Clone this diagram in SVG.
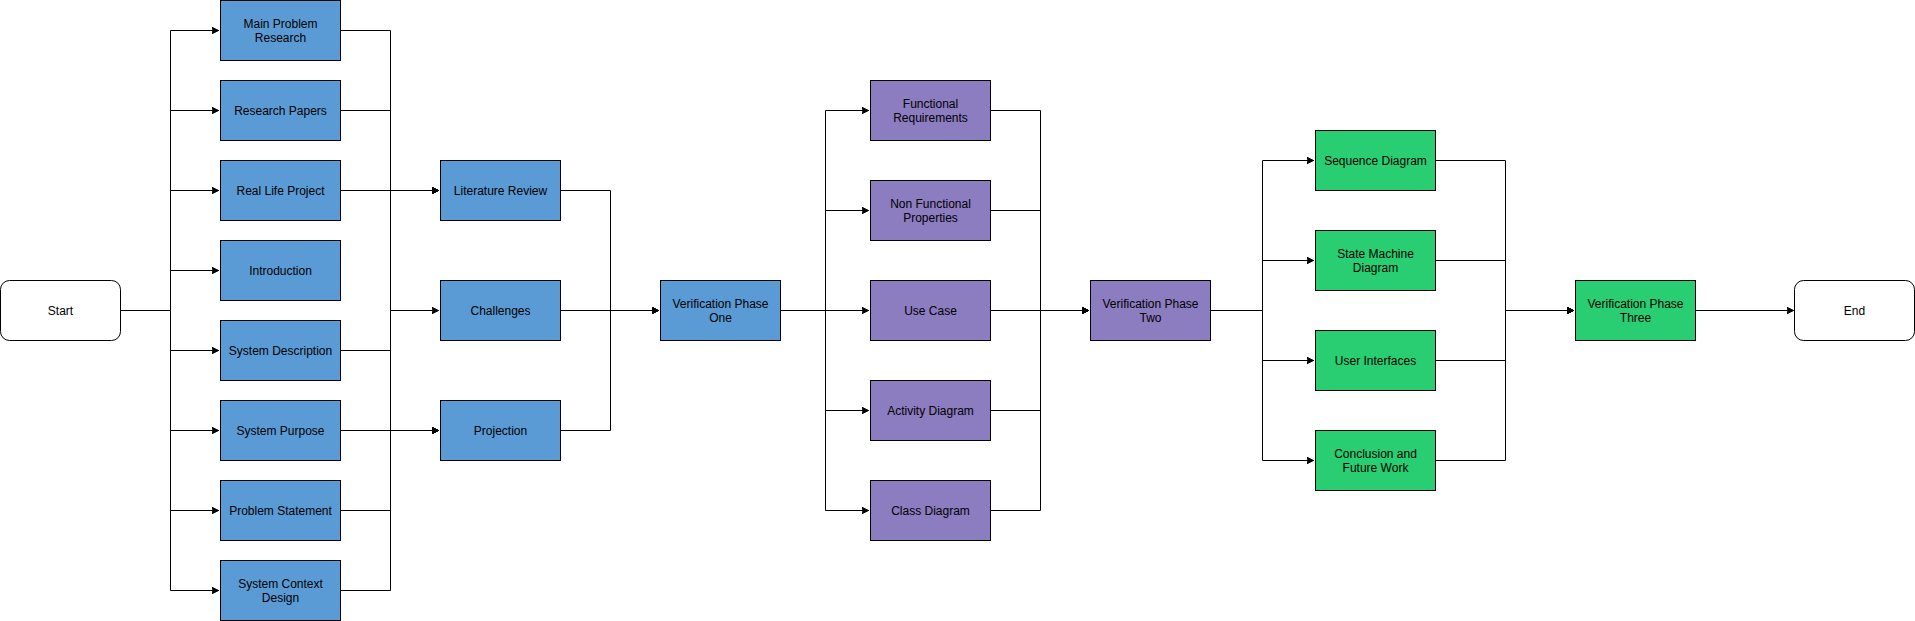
<svg xmlns="http://www.w3.org/2000/svg" width="1915" height="621" viewBox="0 0 1915 621">
<style>
.n{stroke:#000;stroke-width:1}
.b{fill:#5A9BD5}
.p{fill:#8C7CC0}
.g{fill:#28CE71}
.w{fill:#fff}
text{font-family:"Liberation Sans",Arial,sans-serif;font-size:12px;fill:#000;text-anchor:middle}
.e{fill:none;stroke:#000;stroke-width:1;marker-end:url(#arr)}
.l{fill:none;stroke:#000;stroke-width:1}
</style>
<defs>
<marker id="arr" markerUnits="userSpaceOnUse" markerWidth="9" markerHeight="9" refX="7" refY="4" orient="auto" viewBox="0 0 9 8">
<path d="M0,0.5 L7,4 L0,7.5 L1.75,4 Z" fill="#000" stroke="#000" stroke-width="1"/>
</marker>
</defs>
<rect width="1915" height="621" fill="#fff"/>
<g transform="translate(0.5,0.5)">
<g id="connectors">
<path class="e" d="M120 310 H170 V30 H218"/>
<path class="e" d="M120 310 H170 V110 H218"/>
<path class="e" d="M120 310 H170 V190 H218"/>
<path class="e" d="M120 310 H170 V270 H218"/>
<path class="e" d="M120 310 H170 V350 H218"/>
<path class="e" d="M120 310 H170 V430 H218"/>
<path class="e" d="M120 310 H170 V510 H218"/>
<path class="e" d="M120 310 H170 V590 H218"/>
<path class="e" d="M340 30 H390 V190 H438"/>
<path class="e" d="M340 110 H390 V190 H438"/>
<path class="e" d="M340 190 H438"/>
<path class="l" d="M390 190 V430"/>
<path class="e" d="M340 350 H390 V310 H438"/>
<path class="e" d="M340 430 H438"/>
<path class="e" d="M340 510 H390 V430 H438"/>
<path class="e" d="M340 590 H390 V430 H438"/>
<path class="e" d="M560 190 H610 V310 H658"/>
<path class="e" d="M560 310 H658"/>
<path class="e" d="M560 430 H610 V310 H658"/>
<path class="e" d="M780 310 H825 V110 H868"/>
<path class="e" d="M780 310 H825 V210 H868"/>
<path class="e" d="M780 310 H868"/>
<path class="e" d="M780 310 H825 V410 H868"/>
<path class="e" d="M780 310 H825 V510 H868"/>
<path class="e" d="M990 110 H1040 V310 H1088"/>
<path class="e" d="M990 210 H1040 V310 H1088"/>
<path class="e" d="M990 310 H1088"/>
<path class="e" d="M990 410 H1040 V310 H1088"/>
<path class="e" d="M990 510 H1040 V310 H1088"/>
<path class="e" d="M1210 310 H1262 V160 H1313"/>
<path class="e" d="M1210 310 H1262 V260 H1313"/>
<path class="e" d="M1210 310 H1262 V360 H1313"/>
<path class="e" d="M1210 310 H1262 V460 H1313"/>
<path class="e" d="M1435 160 H1505 V310 H1573"/>
<path class="e" d="M1435 260 H1505 V310 H1573"/>
<path class="e" d="M1435 360 H1505 V310 H1573"/>
<path class="e" d="M1435 460 H1505 V310 H1573"/>
<path class="e" d="M1695 310 H1793"/>
</g>
<g id="start"><rect class="n w" x="0" y="280" width="120" height="60" rx="9"/><text x="60" y="314">Start</text></g>
<g id="mainProblem"><rect class="n b" x="220" y="0" width="120" height="60"/><text x="280" y="27">Main Problem</text><text x="280" y="41">Research</text></g>
<g id="researchPapers"><rect class="n b" x="220" y="80" width="120" height="60"/><text x="280" y="114">Research Papers</text></g>
<g id="realLife"><rect class="n b" x="220" y="160" width="120" height="60"/><text x="280" y="194">Real Life Project</text></g>
<g id="introduction"><rect class="n b" x="220" y="240" width="120" height="60"/><text x="280" y="274">Introduction</text></g>
<g id="systemDescription"><rect class="n b" x="220" y="320" width="120" height="60"/><text x="280" y="354">System Description</text></g>
<g id="systemPurpose"><rect class="n b" x="220" y="400" width="120" height="60"/><text x="280" y="434">System Purpose</text></g>
<g id="problemStatement"><rect class="n b" x="220" y="480" width="120" height="60"/><text x="280" y="514">Problem Statement</text></g>
<g id="systemContext"><rect class="n b" x="220" y="560" width="120" height="60"/><text x="280" y="587">System Context</text><text x="280" y="601">Design</text></g>
<g id="literatureReview"><rect class="n b" x="440" y="160" width="120" height="60"/><text x="500" y="194">Literature Review</text></g>
<g id="challenges"><rect class="n b" x="440" y="280" width="120" height="60"/><text x="500" y="314">Challenges</text></g>
<g id="projection"><rect class="n b" x="440" y="400" width="120" height="60"/><text x="500" y="434">Projection</text></g>
<g id="vp1"><rect class="n b" x="660" y="280" width="120" height="60"/><text x="720" y="307">Verification Phase</text><text x="720" y="321">One</text></g>
<g id="functional"><rect class="n p" x="870" y="80" width="120" height="60"/><text x="930" y="107">Functional</text><text x="930" y="121">Requirements</text></g>
<g id="nonFunctional"><rect class="n p" x="870" y="180" width="120" height="60"/><text x="930" y="207">Non Functional</text><text x="930" y="221">Properties</text></g>
<g id="useCase"><rect class="n p" x="870" y="280" width="120" height="60"/><text x="930" y="314">Use Case</text></g>
<g id="activity"><rect class="n p" x="870" y="380" width="120" height="60"/><text x="930" y="414">Activity Diagram</text></g>
<g id="classDiagram"><rect class="n p" x="870" y="480" width="120" height="60"/><text x="930" y="514">Class Diagram</text></g>
<g id="vp2"><rect class="n p" x="1090" y="280" width="120" height="60"/><text x="1150" y="307">Verification Phase</text><text x="1150" y="321">Two</text></g>
<g id="sequence"><rect class="n g" x="1315" y="130" width="120" height="60"/><text x="1375" y="164">Sequence Diagram</text></g>
<g id="stateMachine"><rect class="n g" x="1315" y="230" width="120" height="60"/><text x="1375" y="257">State Machine</text><text x="1375" y="271">Diagram</text></g>
<g id="userInterfaces"><rect class="n g" x="1315" y="330" width="120" height="60"/><text x="1375" y="364">User Interfaces</text></g>
<g id="conclusion"><rect class="n g" x="1315" y="430" width="120" height="60"/><text x="1375" y="457">Conclusion and</text><text x="1375" y="471">Future Work</text></g>
<g id="vp3"><rect class="n g" x="1575" y="280" width="120" height="60"/><text x="1635" y="307">Verification Phase</text><text x="1635" y="321">Three</text></g>
<g id="end"><rect class="n w" x="1794" y="280" width="120" height="60" rx="9"/><text x="1854" y="314">End</text></g>
</g>
</svg>
